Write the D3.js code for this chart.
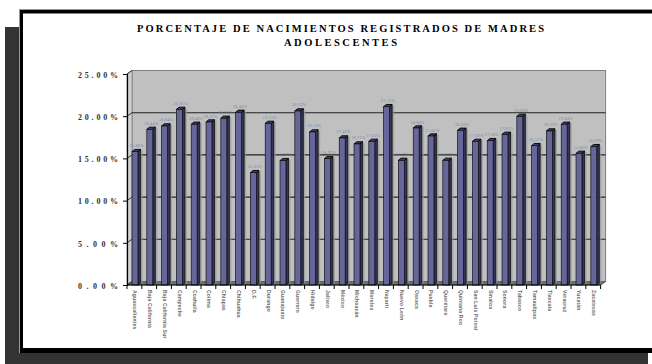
<!DOCTYPE html>
<html><head><meta charset="utf-8">
<script src="https://cdn.jsdelivr.net/npm/d3@7"></script>
<style>html,body{margin:0;padding:0;background:#fff;}svg{display:block;}</style>
</head><body>
<svg id="c" width="652" height="364"></svg>
<script>
const titleLines = ["PORCENTAJE DE NACIMIENTOS REGISTRADOS DE MADRES", "ADOLESCENTES"];
const categories = ["Aguascalientes","Baja California","Baja California Sur","Campeche","Coahuila","Colima","Chiapas","Chihuahua","D.F.","Durango","Guanajuato","Guerrero","Hidalgo","Jalisco","México","Michoacán","Morelos","Nayarit","Nuevo León","Oaxaca","Puebla","Querétaro","Quintana Roo","San Luis Potosí","Sinaloa","Sonora","Tabasco","Tamaulipas","Tlaxcala","Veracruz","Yucatán","Zacatecas"];
const values = [15.80,18.44,18.84,20.81,19.04,19.31,19.75,20.46,13.31,19.15,14.73,20.62,18.13,14.97,17.42,16.71,17.02,21.13,14.77,18.60,17.65,14.77,18.33,17.02,17.10,17.85,19.98,16.51,18.25,19.04,15.60,16.39];
const yTicks = [0,5,10,15,20,25];

const svg = d3.select("#c");
// frame
svg.append("rect").attr("x",5).attr("y",27).attr("width",643).attr("height",340).attr("fill","#333");
svg.append("rect").attr("x",19).attr("y",9).attr("width",640).attr("height",344).attr("fill","#999");
svg.append("rect").attr("x",20).attr("y",10).attr("width",640).attr("height",343).attr("fill","#000");
svg.append("rect").attr("x",23).attr("y",13.5).attr("width",640).attr("height",334.5).attr("fill","#fff");

// title
const tl = [[31.5, 407],[46, 113]];
titleLines.forEach((t,i)=>{
  svg.append("text").attr("x",340.5).attr("y",tl[i][0]).attr("text-anchor","middle")
    .attr("font-family","Liberation Serif, Times New Roman, serif").attr("font-weight","bold")
    .attr("font-size","10.5px").attr("fill","#000")
    .attr("textLength",tl[i][1]).attr("lengthAdjust","spacing").text(t);
});

const x0 = 127, x1 = 600.6;
const x = d3.scaleBand().domain(categories).range([x0, x1]);
const y = d3.scaleLinear().domain([0,25]).range([285, 74]);
const bw = x.bandwidth();
const wdx = 5, wdy = -3.5; // wall depth
const bdx = 2.6, bdy = -2.2; // bar depth

// back wall
svg.append("rect").attr("x",x0+wdx).attr("y",y(25)+wdy).attr("width",x1-x0).attr("height",y(0)-y(25))
  .attr("fill","#c0c0c0").attr("stroke","#808080").attr("stroke-width",1);
// side wall
svg.append("path").attr("d",`M${x0},${y(25)}L${x0+wdx},${y(25)+wdy}L${x0+wdx},${y(0)+wdy}L${x0},${y(0)}Z`)
  .attr("fill","#cfcfcf").attr("stroke","#808080").attr("stroke-width",0.8);
// floor
svg.append("path").attr("d",`M${x0},${y(0)}L${x0+wdx},${y(0)+wdy}L${x1+wdx},${y(0)+wdy}L${x1},${y(0)}Z`)
  .attr("fill","#6e6e6e").attr("stroke","#555").attr("stroke-width",0.6);
// gridlines
yTicks.filter(v=>v>0 && v<25).forEach(v=>{
  svg.append("line").attr("x1",x0+wdx).attr("x2",x1+wdx).attr("y1",y(v)+wdy).attr("y2",y(v)+wdy)
    .attr("stroke","#222").attr("stroke-width",1.1);
});
yTicks.forEach(v=>{
  svg.append("line").attr("x1",x0).attr("x2",x0+wdx).attr("y1",y(v)).attr("y2",y(v)+wdy)
    .attr("stroke","#222").attr("stroke-width",0.9);
});

// bars
const g = svg.append("g");
categories.forEach((c,i)=>{
  const v = values[i];
  const fx = x(c) + bw*0.34, fw = bw*0.40;
  const yt = y(v), yb = y(0);
  g.append("rect").attr("x",fx+fw+bdx).attr("y",yt+bdy+1).attr("width",2).attr("height",yb-yt-1)
    .attr("fill","#9a9a9a").attr("opacity",0.7);
  g.append("path").attr("d",`M${fx+fw},${yt}L${fx+fw+bdx},${yt+bdy}L${fx+fw+bdx},${yb+bdy}L${fx+fw},${yb}Z`)
    .attr("fill","#36365a").attr("stroke","#000").attr("stroke-width",0.7);
  g.append("path").attr("d",`M${fx},${yt}L${fx+bdx},${yt+bdy}L${fx+fw+bdx},${yt+bdy}L${fx+fw},${yt}Z`)
    .attr("fill","#44446a").attr("stroke","#000").attr("stroke-width",0.9);
  g.append("rect").attr("x",fx).attr("y",yt).attr("width",fw).attr("height",yb-yt)
    .attr("fill","#66669a").attr("stroke","#111").attr("stroke-width",0.7);
  g.append("text").attr("x",fx+fw/2+1.5).attr("y",yt-4.5).attr("text-anchor","middle")
    .attr("font-family","Liberation Serif, serif").attr("font-size","4px").attr("fill","#6f80a8")
    .attr("letter-spacing","0.3px").text(v.toFixed(2)+"%");
  g.append("text").attr("transform",`translate(${fx+fw/2-1.6},290) rotate(90)`)
    .attr("font-family","Liberation Sans, Arial, sans-serif").attr("font-size","5px").attr("font-weight","bold")
    .attr("fill","#6a6a6a").attr("letter-spacing","0.2px").text(c);
});

// x axis
svg.append("line").attr("x1",x0).attr("x2",x1).attr("y1",y(0)).attr("y2",y(0)).attr("stroke","#000").attr("stroke-width",1.2);
categories.map(c=>x(c)).concat([x1]).forEach(px=>{
  svg.append("line").attr("x1",px).attr("x2",px).attr("y1",y(0)).attr("y2",y(0)+4).attr("stroke","#000").attr("stroke-width",1);
});
svg.append("line").attr("x1",x1).attr("x2",x1+wdx).attr("y1",y(0)).attr("y2",y(0)+wdy).attr("stroke","#555").attr("stroke-width",0.8);

// y axis
const ya = svg.append("g").attr("transform",`translate(${x0},0)`)
  .call(d3.axisLeft(y).tickValues(yTicks).tickSize(4).tickFormat(d=>d.toFixed(2)+"%"));
ya.select(".domain").attr("stroke","#000").attr("stroke-width",1.2);
ya.selectAll(".tick line").attr("stroke","#000").attr("stroke-width",1);
ya.selectAll(".tick text").attr("x",-9).attr("dy","0.4em")
  .attr("font-family","Liberation Serif, Times New Roman, serif").attr("font-weight","bold")
  .attr("font-size","8px").attr("fill","#333")
  .attr("textLength",40).attr("lengthAdjust","spacing");
</script>
</body></html>
